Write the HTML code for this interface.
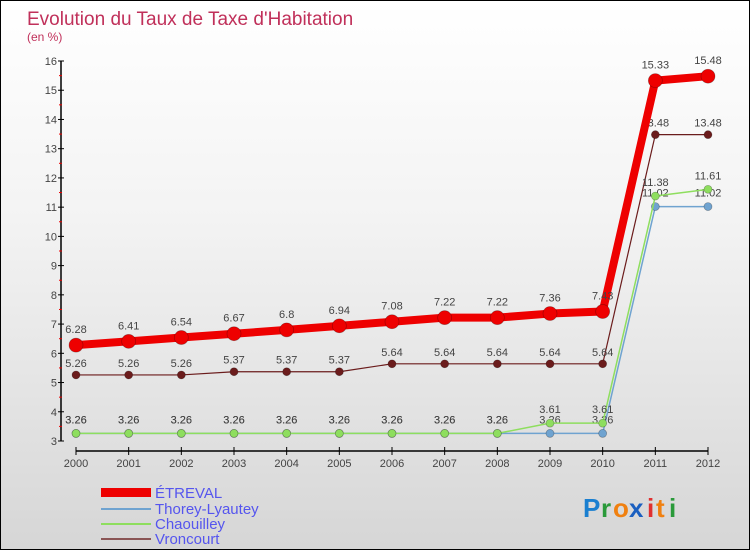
<!DOCTYPE html>
<html><head><meta charset="utf-8"><style>
body{margin:0}
#c{width:750px;height:550px;position:relative;box-sizing:border-box;border:1px solid #000;background:linear-gradient(#fff,#f3f3f3 40%,#d6d6d6);font-family:"Liberation Sans",sans-serif;overflow:hidden}
svg{position:absolute;left:0;top:0}
</style></head><body>
<div id="c">
<svg width="750" height="550" id="s">
<text x="26" y="24" font-size="19" fill="#c0305a">Evolution du Taux de Taxe d'Habitation</text>
<text x="26" y="40" font-size="12" fill="#c0305a">(en %)</text>
<g id="ax"></g><g id="lines"></g>
<g font-size="15" fill="#5555ee">
<rect x="100" y="487" width="50" height="9" fill="#ee0000"/>
<text x="154" y="497">ÉTREVAL</text>
<rect x="100" y="507" width="50" height="2" fill="#6fa3d0"/>
<text x="154" y="513">Thorey-Lyautey</text>
<rect x="100" y="522" width="50" height="2" fill="#8ede5e"/>
<text x="154" y="528">Chaouilley</text>
<rect x="100" y="537" width="50" height="2" fill="#8a5555"/>
<text x="154" y="543">Vroncourt</text>
</g>
<g font-size="26" font-weight="bold">
<text x="582" y="516" fill="#1a7fd0">P</text><text x="600" y="516" fill="#2a9a3a">r</text><text x="612" y="516" fill="#f08010">o</text><text x="628" y="516" fill="#1a5fc0">x</text><text x="646" y="516" fill="#e03030">i</text><text x="655" y="516" fill="#f08010">t</text><text x="668" y="516" fill="#2a9a3a">i</text>
</g>
</svg>
</div>
<script>
const years=[2000,2001,2002,2003,2004,2005,2006,2007,2008,2009,2010,2011,2012];
const yTicks=[3,4,5,6,7,8,9,10,11,12,13,14,15,16];
const etreval=[6.28,6.41,6.54,6.67,6.8,6.94,7.08,7.22,7.22,7.36,7.43,15.33,15.48];
const thorey=[3.26,3.26,3.26,3.26,3.26,3.26,3.26,3.26,3.26,3.26,3.26,11.02,11.02];
const chaouilley=[3.26,3.26,3.26,3.26,3.26,3.26,3.26,3.26,3.26,3.61,3.61,11.38,11.61];
const vroncourt=[5.26,5.26,5.26,5.37,5.37,5.37,5.64,5.64,5.64,5.64,5.64,13.48,13.48];
const NS="http://www.w3.org/2000/svg";
const X=i=>75+i*(707-75)/(years.length-1);
const Y=v=>440-(v-3)*(380/13);
function mk(t,a,p){const e=document.createElementNS(NS,t);for(const k in a)e.setAttribute(k,a[k]);p.appendChild(e);return e;}
const ax=document.getElementById('ax'),ln=document.getElementById('lines');
const yax=mk('line',{x1:60,y1:60,x2:60,y2:440,stroke:'#000','stroke-width':1.5},ax);


yTicks.forEach(v=>{
  mk('line',{x1:57,y1:Y(v),x2:63,y2:Y(v),stroke:'#000'},ax);
  if(v<16)mk('line',{x1:58,y1:Y(v+0.5),x2:61,y2:Y(v+0.5),stroke:'#e00'},ax);
  const t=mk('text',{x:56,y:Y(v)+4,'font-size':11,fill:'#444','text-anchor':'end'},ax);t.textContent=v;
  
  
});
const xax=mk('line',{x1:75,y1:450,x2:707,y2:450,stroke:'#000','stroke-width':1.5},ax);


years.forEach((y,i)=>{
  mk('line',{x1:X(i),y1:446,x2:X(i),y2:454,stroke:'#000'},ax);
  const t=mk('text',{x:X(i),y:466,'font-size':11,fill:'#444','text-anchor':'middle'},ax);t.textContent=y;
  
  
});
function series(arr,col,w,r,name,dy){
  const g=mk('g',{},ln);
  
  
  mk('polyline',{points:arr.map((v,i)=>X(i)+','+Y(v)).join(' '),fill:'none',stroke:col,'stroke-width':w,'stroke-linejoin':'round'},g);
  arr.forEach((v,i)=>{
    const c=mk('circle',{cx:X(i),cy:Y(v),r:r,fill:col,stroke:'rgba(0,0,0,0.3)','stroke-width':0.7},g);
    
    
    const t=mk('text',{x:X(i),y:Y(v)-dy,'font-size':11,fill:'#444','text-anchor':'middle'},g);t.textContent=v;
    
    
  });
}
series(vroncourt,'#6b1c1c',1.2,4,'vroncourt',8);
series(thorey,'#6fa3d0',1.5,4,'thorey',10);
series(chaouilley,'#8ede5e',1.5,4,'chaouilley',10);
series(etreval,'#ee0000',8,7,'etreval',12);
</script>
</body></html>
